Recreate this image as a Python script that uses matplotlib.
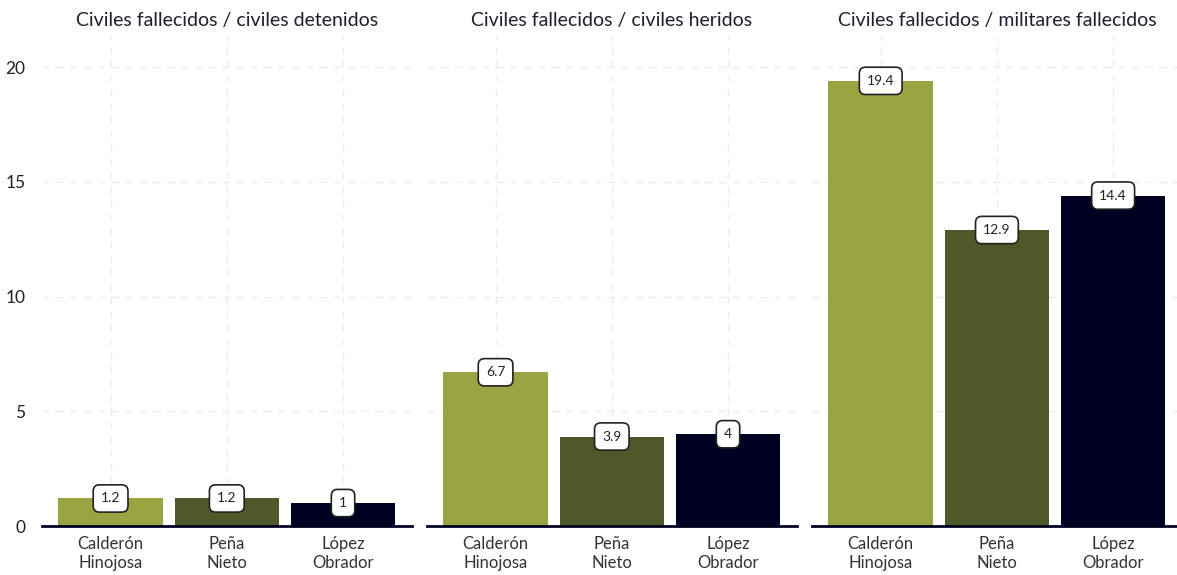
import matplotlib.pyplot as plt

plt.rcParams['font.family'] = ['Lato', 'DejaVu Sans']

# Datos por panel
titles = ["Civiles fallecidos / civiles detenidos",
          "Civiles fallecidos / civiles heridos",
          "Civiles fallecidos / militares fallecidos"]
presidents = ["Calderón\nHinojosa", "Peña\nNieto", "López\nObrador"]
ratio_detenidos = [1.2, 1.2, 1]
ratio_heridos = [6.7, 3.9, 4]
ratio_militares = [19.4, 12.9, 14.4]
colors = ["#9ba443", "#4f5829", "#000022"]

series = [ratio_detenidos, ratio_heridos, ratio_militares]

fig = plt.figure(figsize=(11.77, 5.75), dpi=100)
lefts = [0.0357, 0.3628, 0.690]

for i, (title, vals) in enumerate(zip(titles, series)):
    ax = fig.add_axes([lefts[i], 0.0852, 0.314, 0.850])
    x = range(len(presidents))
    ax.bar(x, vals, width=0.9, color=colors, zorder=2)
    for xi, v in zip(x, vals):
        ax.text(xi, v, f"{v:g}", ha='center', va='center', fontsize=10,
                color='#222222', zorder=3,
                bbox=dict(boxstyle='round,pad=0.55,rounding_size=0.45',
                          fc='white', ec='#222222', lw=1.2))
    ax.set_xlim(-0.59, 2.59)
    ax.set_ylim(0, 21.3)
    ax.set_yticks([0, 5, 10, 15, 20])
    ax.set_xticks(list(x))
    ax.set_xticklabels(presidents, fontsize=12, color='#333333',
                       linespacing=1.25)
    ax.grid(True, color='#ececec', linestyle=(0, (5, 5)), lw=1, zorder=0)
    ax.tick_params(length=0, pad=7)
    ax.tick_params(axis='y', labelsize=12.5, colors='#222222', pad=12)
    if i > 0:
        ax.tick_params(axis='y', labelleft=False)
    for s in ['top', 'right', 'left']:
        ax.spines[s].set_visible(False)
    ax.spines['bottom'].set_color('#000022')
    ax.spines['bottom'].set_linewidth(2)
    ax.spines['bottom'].set_zorder(4)
    ax.set_title(title, fontsize=14, color='#1f1f2e', pad=8)

fig.savefig("out.png", dpi=100, facecolor='white')
